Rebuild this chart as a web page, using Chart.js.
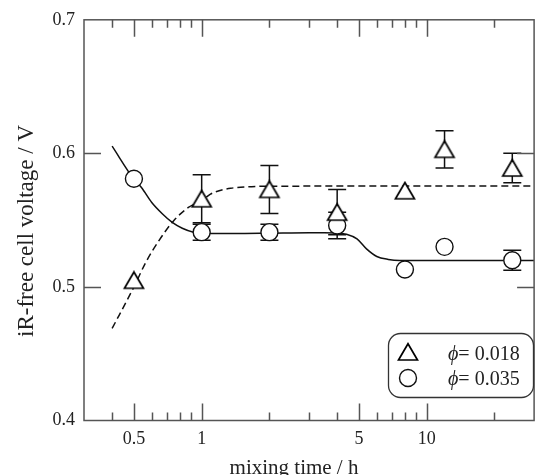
<!DOCTYPE html>
<html>
<head>
<meta charset="utf-8">
<script src="https://cdn.jsdelivr.net/npm/chart.js@4"></script>
<style>
  html, body { margin: 0; padding: 0; background: #fff; }
  canvas { display: block; }
</style>
</head>
<body>
<canvas id="cellChart" width="544" height="475"></canvas>
<script>
// ================================
// DATA
// ================================

// mixing time / h
let times = [0.5, 1, 2, 4, 8, 12, 24];

// phi = 0.018 (triangles)
let volt018 = [0.505, 0.566, 0.573, 0.556, 0.572, 0.603, 0.589];
let err018 = [0, 0.018, 0.018, 0.017, 0, 0.014, 0.011];

// phi = 0.035 (circles)
let volt035 = [0.581, 0.541, 0.541, 0.546, 0.513, 0.530, 0.520];
let err035 = [0, 0.006, 0.006, 0.010, 0, 0, 0.0075];

// guide curves
let solidX = [0.4, 0.5, 0.54, 0.6, 0.67, 0.74, 0.82, 0.92, 1.0, 1.5, 2, 3, 3.5, 4, 4.4, 4.9, 5.4, 6.0, 6.75, 7.6, 10, 20, 30];
let solidY = [0.6054, 0.5806, 0.5744, 0.5632, 0.5546, 0.5483, 0.5439, 0.5409, 0.5400, 0.5400, 0.5402, 0.5405, 0.5405, 0.5403, 0.5395, 0.5360, 0.5285, 0.5228, 0.5206, 0.5198, 0.5197, 0.5197, 0.5197];

let dashX = [0.4, 0.5, 0.565, 0.646, 0.751, 0.873, 1.0, 1.094, 1.218, 1.346, 1.6, 2, 5, 10, 30];
let dashY = [0.4689, 0.5000, 0.5185, 0.5347, 0.5496, 0.5595, 0.5645, 0.5695, 0.5724, 0.5739, 0.5750, 0.5754, 0.5755, 0.5755, 0.5755];

// axis ticks
let xMajor = [0.5, 1, 5, 10];
let xMinor = [0.4, 0.6, 0.7, 0.8, 0.9, 2, 3, 4, 6, 7, 8, 9, 20];
let yTicks = [0.4, 0.5, 0.6, 0.7];
let yInner = [0.5, 0.6];

const INK = "#111";
const AXIS = "#555";
const FONT = "'Liberation Serif', 'Times New Roman', serif";

// triangle marker drawn box-centred, like the original plot
function makeTriangle() {
  let c = document.createElement("canvas");
  c.width = 24; c.height = 20;
  let g = c.getContext("2d");
  g.beginPath();
  g.moveTo(12, 1.8);
  g.lineTo(2.5, 18);
  g.lineTo(21.5, 18);
  g.closePath();
  g.fillStyle = "#fff";
  g.fill();
  g.lineWidth = 1.7;
  g.strokeStyle = "#000";
  g.lineJoin = "miter";
  g.stroke();
  return c;
}
let triImg = makeTriangle();

function pts(xs, ys) {
  return xs.map((x, i) => ({ x: x, y: ys[i] }));
}

// ================================
// PLUGINS
// ================================

// error bars under the markers
const errorBars = {
  id: "errorBars",
  beforeDatasetsDraw(chart) {
    let c = chart.ctx, xs = chart.scales.x, ys = chart.scales.y;
    c.save();
    c.strokeStyle = INK;
    c.lineWidth = 1.5;
    [[volt018, err018], [volt035, err035]].forEach(([v, e]) => {
      times.forEach((t, i) => {
        if (!e[i]) return;
        let px = xs.getPixelForValue(t);
        let top = ys.getPixelForValue(v[i] + e[i]);
        let bot = ys.getPixelForValue(v[i] - e[i]);
        c.beginPath();
        c.moveTo(px, top); c.lineTo(px, bot);
        c.moveTo(px - 9, top); c.lineTo(px + 9, top);
        c.moveTo(px - 9, bot); c.lineTo(px + 9, bot);
        c.stroke();
      });
    });
    c.restore();
  }
};

// box frame with inward ticks, titles and legend
const frame = {
  id: "frame",
  afterDraw(chart) {
    let c = chart.ctx, a = chart.chartArea;
    let xs = chart.scales.x, ys = chart.scales.y;
    c.save();
    c.strokeStyle = AXIS;
    c.lineWidth = 1.5;
    c.strokeRect(a.left, a.top, a.right - a.left, a.bottom - a.top);

    c.beginPath();
    xMajor.forEach(v => {
      let px = Math.round(xs.getPixelForValue(v)) + 0.5;
      c.moveTo(px, a.bottom); c.lineTo(px, a.bottom - 17);
      c.moveTo(px, a.top); c.lineTo(px, a.top + 17);
    });
    xMinor.forEach(v => {
      let px = Math.round(xs.getPixelForValue(v)) + 0.5;
      c.moveTo(px, a.bottom); c.lineTo(px, a.bottom - 8);
      c.moveTo(px, a.top); c.lineTo(px, a.top + 8);
    });
    yInner.forEach(v => {
      let py = Math.round(ys.getPixelForValue(v)) + 0.5;
      c.moveTo(a.left, py); c.lineTo(a.left + 17, py);
      c.moveTo(a.right, py); c.lineTo(a.right - 17, py);
    });
    c.stroke();

    // axis titles
    c.fillStyle = "#222";
    c.font = "21px " + FONT;
    c.textAlign = "center";
    c.textBaseline = "alphabetic";
    c.fillText("mixing time / h", 294, 474);

    c.save();
    c.translate(33, 231);
    c.rotate(-Math.PI / 2);
    c.font = "23px " + FONT;
    c.fillText("iR-free cell voltage / V", 0, 0);
    c.restore();

    // legend
    c.beginPath();
    c.roundRect(388.5, 333.5, 145, 64, 12);
    c.fillStyle = "#fff";
    c.fill();
    c.strokeStyle = "#333";
    c.lineWidth = 1.3;
    c.stroke();

    c.drawImage(triImg, 408 - 12, 352 - 10);
    c.beginPath();
    c.arc(408, 378, 8.5, 0, Math.PI * 2);
    c.fillStyle = "#fff";
    c.fill();
    c.strokeStyle = INK;
    c.lineWidth = 1.4;
    c.stroke();

    c.fillStyle = "#222";
    c.textAlign = "left";
    [["0.018", 360], ["0.035", 385]].forEach(([val, base]) => {
      c.font = "italic 20px " + FONT;
      c.fillText("\u03d5", 448, base);
      let w = c.measureText("\u03d5").width;
      c.font = "20px " + FONT;
      c.fillText("= " + val, 448 + w, base);
    });
    c.restore();
  }
};

// ================================
// CHART
// ================================

let ctx = document.getElementById("cellChart").getContext("2d");

let cellChart = new Chart(ctx, {
  type: "scatter",
  data: {
    datasets: [
      {
        label: "\u03d5 = 0.018",
        data: pts(times, volt018),
        pointStyle: triImg,
        order: 0
      },
      {
        label: "\u03d5 = 0.035",
        data: pts(times, volt035),
        pointStyle: "circle",
        pointRadius: 8.5,
        pointBorderWidth: 1.4,
        pointBorderColor: INK,
        pointBackgroundColor: "#fff",
        order: 1
      },
      {
        label: "fit 0.035",
        data: pts(solidX, solidY),
        showLine: true,
        pointRadius: 0,
        borderColor: INK,
        borderWidth: 1.5,
        cubicInterpolationMode: "monotone",
        order: 2
      },
      {
        label: "fit 0.018",
        data: pts(dashX, dashY),
        showLine: true,
        pointRadius: 0,
        borderColor: INK,
        borderWidth: 1.5,
        borderDash: [7, 4],
        cubicInterpolationMode: "monotone",
        order: 3
      }
    ]
  },
  options: {
    responsive: false,
    animation: false,
    layout: { padding: { top: 19, right: 0, left: 0, bottom: 0 } },
    plugins: {
      legend: { display: false },
      tooltip: { enabled: false }
    },
    scales: {
      x: {
        type: "logarithmic",
        min: 0.3,
        max: 30,
        afterFit: s => { s.height = 54.5; },
        afterBuildTicks: s => { s.ticks = xMajor.map(v => ({ value: v })); },
        grid: { display: false, drawTicks: false },
        border: { display: false },
        ticks: {
          autoSkip: false,
          maxRotation: 0,
          padding: 8,
          color: "#222",
          font: { family: FONT, size: 18 },
          callback: v => String(v)
        }
      },
      y: {
        min: 0.4,
        max: 0.7,
        afterFit: s => { s.width = 84; },
        afterBuildTicks: s => { s.ticks = yTicks.map(v => ({ value: v })); },
        grid: { display: false, drawTicks: false },
        border: { display: false },
        ticks: {
          padding: 9,
          color: "#222",
          font: { family: FONT, size: 18 },
          callback: v => v.toFixed(1)
        }
      }
    }
  },
  plugins: [errorBars, frame]
});
</script>
</body>
</html>
